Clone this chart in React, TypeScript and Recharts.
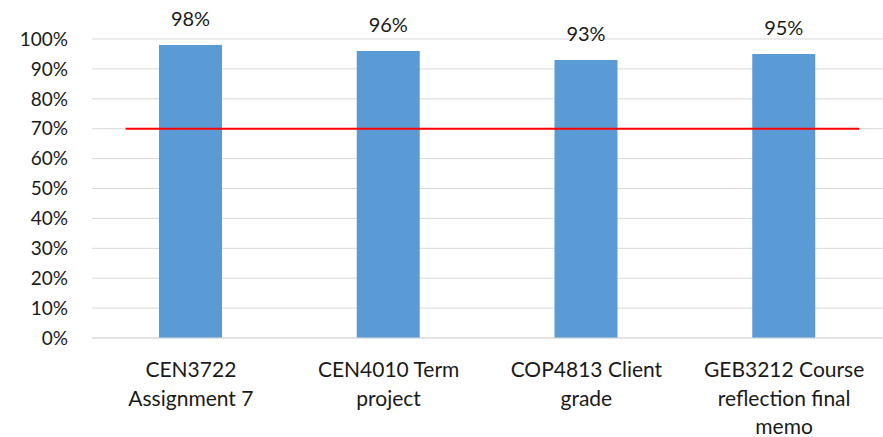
import React from 'react';
import { BarChart, Bar, XAxis, YAxis, CartesianGrid, ReferenceLine, LabelList } from 'recharts';

const courses = ['CEN3722 Assignment 7', 'CEN4010 Term project', 'COP4813 Client grade', 'GEB3212 Course reflection final memo'];
const tickLines = [
  ['CEN3722', 'Assignment 7'],
  ['CEN4010 Term', 'project'],
  ['COP4813 Client', 'grade'],
  ['GEB3212 Course', 'reflection final', 'memo'],
];
const scores = [98, 96, 93, 95];
const yTicks = [0, 10, 20, 30, 40, 50, 60, 70, 80, 90, 100];
const target = 70;
// where the red target line starts and stops, in category units
const targetSpan = [0.17, 3.88];

const data = courses.map((name, i) => ({ name, idx: i, score: scores[i] }));

const FONT = 'Lato, "Open Sans", sans-serif';
const INK = '#1a1a1a';

const CourseTick = ({ x, y, index }: any) => {
  const lines = tickLines[index] || [];
  return (
    <text x={x} y={y + 39} textAnchor="middle" fill={INK} fontSize={21} fontFamily={FONT}>
      {lines.map((l, i) => (
        <tspan key={i} x={x} dy={i === 0 ? 0 : 28.5}>{l}</tspan>
      ))}
    </text>
  );
};

export default function App() {
  return (
    <div style={{ position: 'absolute', left: 0, top: 0, background: '#fff' }}>
      <BarChart width={883} height={437} data={data} margin={{ top: 39, right: 0, left: 0, bottom: 0 }}>
        <CartesianGrid vertical={false} stroke="#d9d9d9" />
        <XAxis
          dataKey="name"
          xAxisId="cat"
          height={99}
          axisLine={{ stroke: '#d9d9d9' }}
          tickLine={false}
          tickSize={0}
          tickMargin={0}
          interval={0}
          tick={<CourseTick />}
        />
        <XAxis xAxisId="num" type="number" dataKey="idx" domain={[0, 4]} hide />
        <YAxis
          width={92}
          domain={[0, 100]}
          ticks={yTicks}
          tickFormatter={(v) => `${v}%`}
          axisLine={false}
          tickLine={false}
          tickMargin={18}
          tick={{ fill: INK, fontSize: 19, fontFamily: FONT }}
        />
        <Bar dataKey="score" xAxisId="cat" fill="#5B9BD5" barSize={63} isAnimationActive={false}>
          <LabelList
            dataKey="score"
            position="top"
            offset={19}
            formatter={(v: any) => `${v}%`}
            style={{ fill: INK, fontSize: 20, fontFamily: FONT }}
          />
        </Bar>
        <ReferenceLine
          xAxisId="num"
          segment={[{ x: targetSpan[0], y: target }, { x: targetSpan[1], y: target }]}
          stroke="#ff0000"
          strokeWidth={2}
          ifOverflow="visible"
        />
      </BarChart>
    </div>
  );
}
